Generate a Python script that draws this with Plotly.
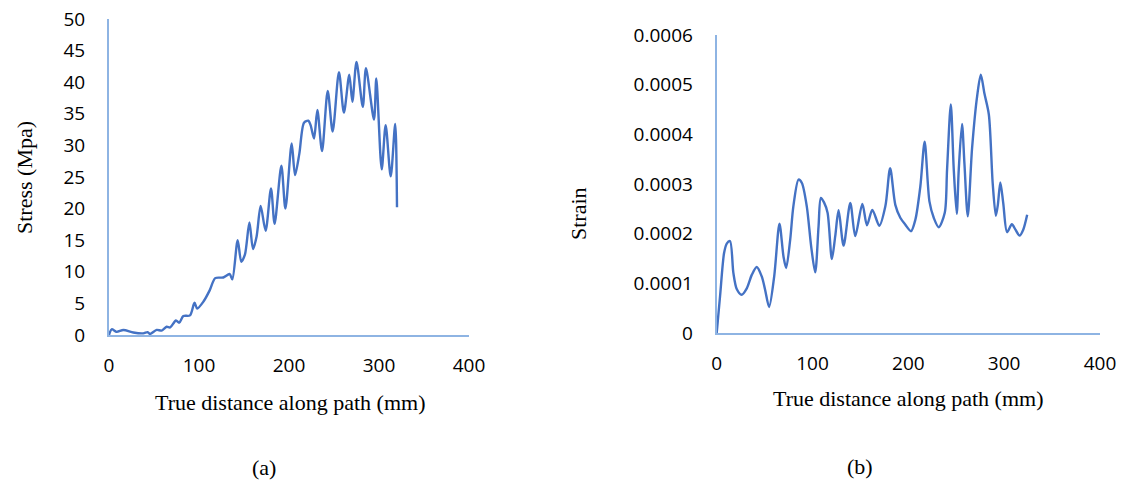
import plotly.graph_objects as go

# ---- data (a): stress along path ----
dist_a = [0, 3, 8.5, 16, 27, 38, 43, 45.5, 53, 58.5, 64, 68, 74.4, 78, 82.6, 90, 95, 98, 105, 112,
          118, 127, 134, 137, 143, 147, 151, 156, 160, 164, 168.5, 174, 180, 184, 191.5, 196, 203,
          206.7, 211.5, 216.7, 221.5, 224, 227.8, 231.5, 236.7, 243, 248.5, 255.5, 261, 267, 270.4,
          275, 282, 285.5, 294.4, 297, 303, 307.4, 313, 318, 320]
stress = [0, 0.9, 0.5, 0.8, 0.4, 0.26, 0.45, 0.16, 0.8, 0.7, 1.3, 1.2, 2.3, 1.95, 3.0, 3.1, 5.1, 4.2, 5.3, 7.1,
          9.0, 9.1, 9.65, 8.8, 15.0, 11.6, 12.7, 17.8, 13.6, 15.6, 20.4, 16.5, 23.2, 17.6, 26.8, 20.0, 30.3,
          25.3, 28.7, 33.6, 33.9, 33.2, 31.1, 35.6, 29.1, 38.6, 32.2, 41.6, 35.2, 41.2, 36.9,
          43.2, 36.1, 42.2, 34.1, 40.6, 26.2, 33.2, 25.1, 33.4, 20.2]

# ---- data (b): strain along path ----
dist_b = [0, 3.5, 7.7, 10.5, 13.9, 17.4, 20.9, 26, 31.4, 36.6, 41.8, 47, 50.5, 54.7, 60, 65.5, 69.7, 72.5,
          76.7, 80, 85.4, 88.9, 94, 98.6, 102.8, 106.3, 108.7, 112, 115.7, 120.2, 123.7, 127.2, 132.4,
          139.4, 144.6, 152, 156.8, 162.4, 169.7, 176, 181, 186.4, 191.6, 196.9, 202.8, 207.3, 212.5,
          217, 222, 226.5, 231.7, 238, 240.4, 244.3, 247.4, 250.5, 252.6, 256, 258.5, 262, 266.5,
          271.8, 275.6, 279.4, 284, 288, 291.3, 293.4, 296, 299, 303, 308, 311.8, 316, 319.9, 324]
strain = [0, 0.000074, 0.000161, 0.00018, 0.000185, 0.000121, 0.0000886, 0.000077, 0.00009, 0.000117,
          0.000133, 0.000114, 0.0000872, 0.0000523, 0.000114, 0.00022, 0.000154, 0.000131, 0.000188,
          0.000255, 0.000309, 0.000302, 0.000255, 0.000174, 0.000122, 0.000215, 0.000272, 0.000263,
          0.000242, 0.000149, 0.000195, 0.000247, 0.000176, 0.000262, 0.000195, 0.00026, 0.000217,
          0.000248, 0.000216, 0.000255, 0.000332, 0.000258, 0.000232, 0.000218, 0.000205, 0.000228,
          0.000295, 0.000385, 0.000265, 0.000232, 0.000213, 0.000242, 0.000329, 0.00046, 0.000329,
          0.00024, 0.000329, 0.000421, 0.000342, 0.000235, 0.000372, 0.000477, 0.00052, 0.000482,
          0.00044, 0.000302, 0.000236, 0.000258, 0.000303, 0.000262, 0.000203, 0.000219, 0.000208,
          0.000196, 0.000208, 0.000238]

x_ticks = [0, 100, 200, 300, 400]
stress_ticks = [0, 5, 10, 15, 20, 25, 30, 35, 40, 45, 50]
strain_ticks = [0, 0.0001, 0.0002, 0.0003, 0.0004, 0.0005, 0.0006]
strain_tick_text = ["0", "0.0001", "0.0002", "0.0003", "0.0004", "0.0005", "0.0006"]

W, H = 1123, 483
LINE = "#4472C4"
AXIS = "#8EB4E3"
TICKFONT = dict(family="Open Sans, Liberation Sans, sans-serif", size=19, color="#000000")
SERIF = dict(family="Liberation Serif, Times New Roman, serif", size=22, color="#000000")

fig = go.Figure()
fig.add_trace(go.Scatter(x=dist_a, y=stress, mode="lines", line=dict(color=LINE, width=2.4, shape="spline", smoothing=0.8),
                         xaxis="x", yaxis="y", showlegend=False))
fig.add_trace(go.Scatter(x=dist_b, y=strain, mode="lines", line=dict(color=LINE, width=2.4, shape="spline", smoothing=0.8),
                         xaxis="x2", yaxis="y2", showlegend=False))

def px_x(p):
    return p / W

def px_y(p):
    return (H - p) / H

common_x = dict(range=[0, 400], tickvals=x_ticks, showgrid=False, zeroline=False, showline=True, automargin=False,
                linecolor=AXIS, linewidth=2, ticks="", tickfont=TICKFONT, ticklabelstandoff=12, fixedrange=True)
common_y = dict(showgrid=False, zeroline=False, showline=True, linecolor=AXIS, linewidth=2, ticks="", automargin=False,
                tickfont=TICKFONT, ticklabelstandoff=18, fixedrange=True)

fig.update_layout(
    width=W, height=H, margin=dict(l=0, r=0, t=0, b=0, autoexpand=False),
    paper_bgcolor="white", plot_bgcolor="white",
    xaxis=dict(domain=[px_x(109), px_x(469)], anchor="y", **common_x),
    yaxis=dict(domain=[px_y(335), px_y(19)], anchor="x", range=[0, 50], tickvals=stress_ticks, **common_y),
    xaxis2=dict(domain=[px_x(716.7), px_x(1100)], anchor="y2", **common_x),
    yaxis2=dict(domain=[px_y(333), px_y(35)], anchor="x2", range=[0, 0.0006], tickvals=strain_ticks,
                ticktext=strain_tick_text, **common_y),
)

def ann(text, x, y, angle=0):
    fig.add_annotation(text=text, x=px_x(x), y=px_y(y), xref="paper", yref="paper", showarrow=False,
                       font=SERIF, textangle=angle, xanchor="center", yanchor="middle")

ann("True distance along path (mm)", 290, 402)
ann("True distance along path (mm)", 908, 398)
ann("Stress (Mpa)", 25, 178, -90)
ann("Strain", 578, 214, -90)
ann("(a)", 264, 467)
ann("(b)", 860, 466)

fig.write_html("out.html")
